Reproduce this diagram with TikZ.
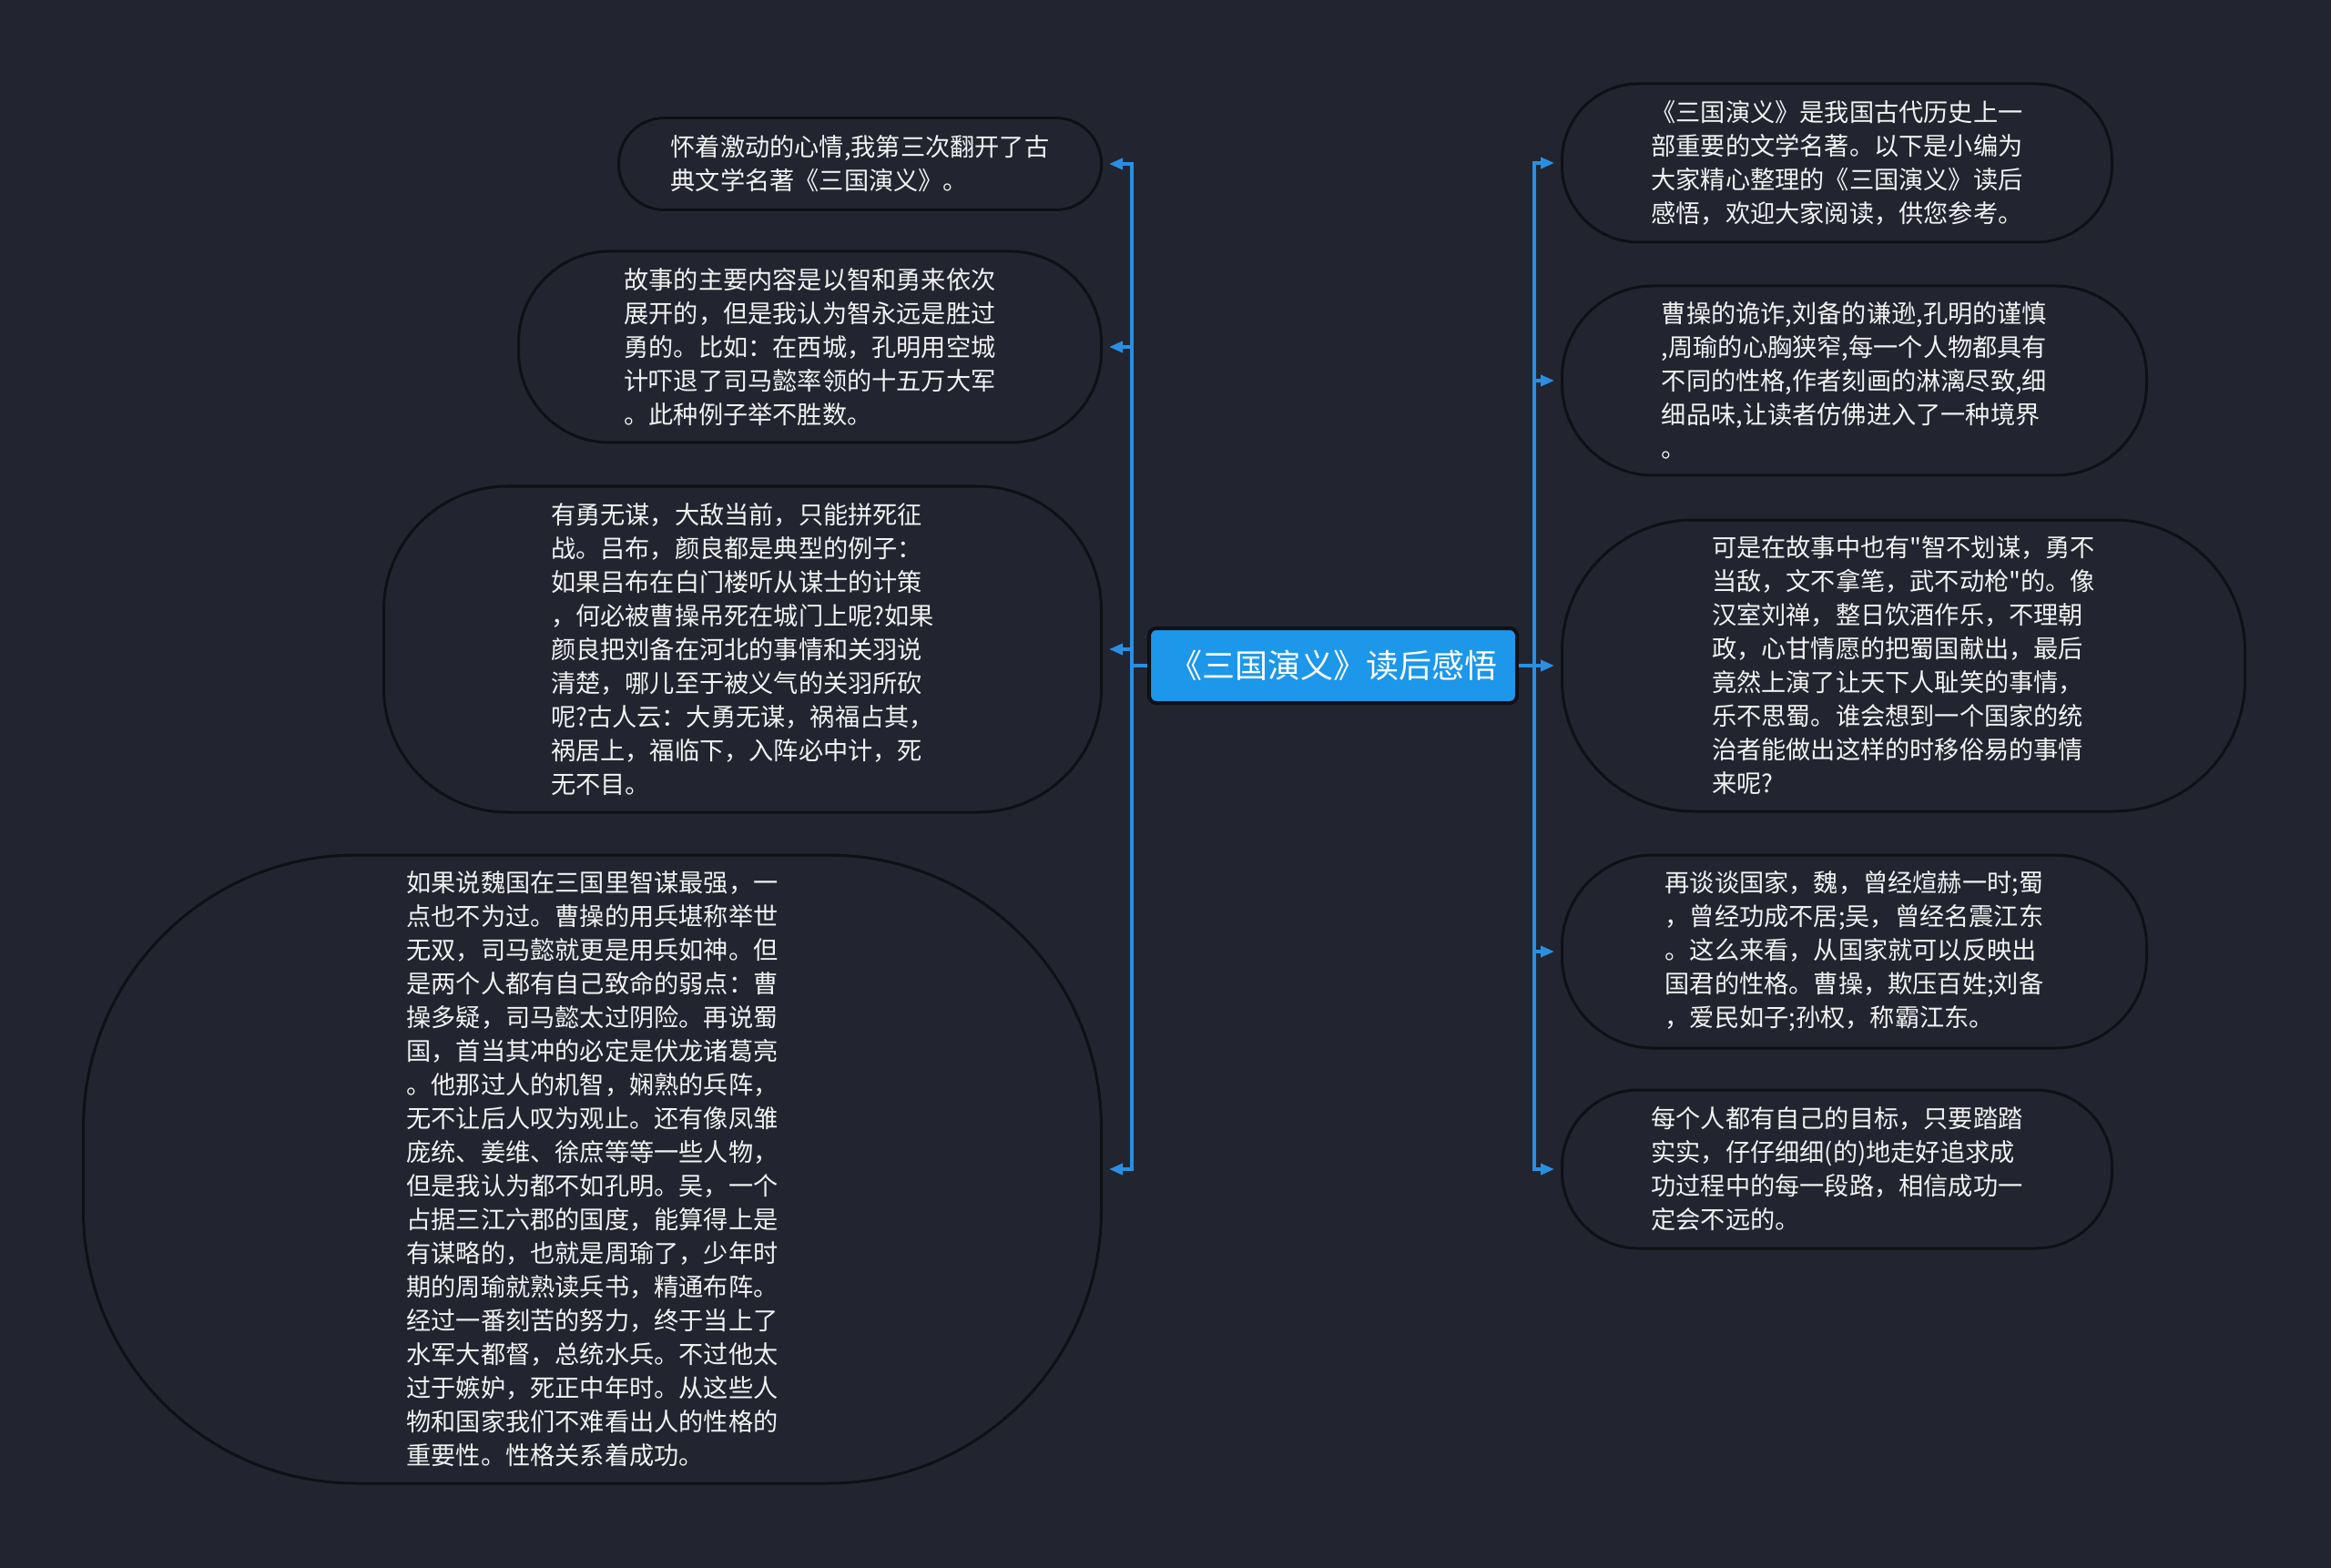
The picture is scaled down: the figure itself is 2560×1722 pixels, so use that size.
\documentclass[tikz,border=0pt]{standalone}
\usepackage{fontspec}
\newfontfamily\cjk{Noto Sans CJK SC}
\usetikzlibrary{arrows.meta}
\definecolor{bgcol}{HTML}{22252F}
\definecolor{rimcol}{HTML}{0F1015}
\definecolor{linkcol}{HTML}{2A8FE2}
\definecolor{rootcol}{HTML}{1C97EA}
\tikzset{
  leaf/.style={draw=rimcol, line width=1.5pt, fill=bgcol, text=white!95!black, align=left, inner sep=0pt,
    font=\cjk\fontsize{13.6pt}{18.5pt}\selectfont},
  link/.style={draw=linkcol, line width=1.8pt},
  tip/.style={-{Triangle[length=7.5pt,width=6pt]}, shorten >=3.5pt}
}

\begin{document}
\begin{tikzpicture}[x=0.5pt,y=-0.5pt]
\fill[bgcol] (0,0) rectangle (2560,1722);
\useasboundingbox (0,0) rectangle (2560,1722);
\node[draw=rimcol, line width=2pt, fill=rootcol, rounded corners=4pt, minimum width=202pt, minimum height=41pt,
  text=white, font=\cjk\fontsize{18pt}{22pt}\selectfont] (root) at (1464,731) {《三国演义》读后感悟};

\node[leaf, anchor=east, minimum width=265pt, minimum height=50.5pt, rounded corners=25pt] (l1) at (1211,180)
  {怀着激动的心情,我第三次翻开了古\\典文学名著《三国演义》。};
\node[leaf, anchor=east, minimum width=320pt, minimum height=105pt, rounded corners=50pt] (l2) at (1211,381)
  {故事的主要内容是以智和勇来依次\\展开的，但是我认为智永远是胜过\\勇的。比如：在西城，孔明用空城\\计吓退了司马懿率领的十五万大军\\。此种例子举不胜数。};
\node[leaf, anchor=east, minimum width=394pt, minimum height=179pt, rounded corners=68pt] (l3) at (1211,713)
  {有勇无谋，大敌当前，只能拼死征\\战。吕布，颜良都是典型的例子：\\如果吕布在白门楼听从谋士的计策\\，何必被曹操吊死在城门上呢?如果\\颜良把刘备在河北的事情和关羽说\\清楚，哪儿至于被义气的关羽所砍\\呢?古人云：大勇无谋，祸福占其，\\祸居上，福临下，入阵必中计，死\\无不目。};
\node[leaf, anchor=east, minimum width=559pt, minimum height=345pt, rounded corners=150pt] (l4) at (1211,1284)
  {如果说魏国在三国里智谋最强，一\\点也不为过。曹操的用兵堪称举世\\无双，司马懿就更是用兵如神。但\\是两个人都有自己致命的弱点：曹\\操多疑，司马懿太过阴险。再说蜀\\国，首当其冲的必定是伏龙诸葛亮\\。他那过人的机智，娴熟的兵阵，\\无不让后人叹为观止。还有像凤雏\\庞统、姜维、徐庶等等一些人物，\\但是我认为都不如孔明。吴，一个\\占据三江六郡的国度，能算得上是\\有谋略的，也就是周瑜了，少年时\\期的周瑜就熟读兵书，精通布阵。\\经过一番刻苦的努力，终于当上了\\水军大都督，总统水兵。不过他太\\过于嫉妒，死正中年时。从这些人\\物和国家我们不难看出人的性格的\\重要性。性格关系着成功。};

\node[leaf, anchor=west, minimum width=302pt, minimum height=87pt, rounded corners=42pt] (r1) at (1714,179)
  {《三国演义》是我国古代历史上一\\部重要的文学名著。以下是小编为\\大家精心整理的《三国演义》读后\\感悟，欢迎大家阅读，供您参考。};
\node[leaf, anchor=west, minimum width=321pt, minimum height=104pt, rounded corners=50pt] (r2) at (1714,418)
  {曹操的诡诈,刘备的谦逊,孔明的谨慎\\,周瑜的心胸狭窄,每一个人物都具有\\不同的性格,作者刻画的淋漓尽致,细\\细品味,让读者仿佛进入了一种境界\\。};
\node[leaf, anchor=west, minimum width=375pt, minimum height=160pt, rounded corners=72pt] (r3) at (1714,731)
  {可是在故事中也有"智不划谋，勇不\\当敌，文不拿笔，武不动枪"的。像\\汉室刘禅，整日饮酒作乐，不理朝\\政，心甘情愿的把蜀国献出，最后\\竟然上演了让天下人耻笑的事情，\\乐不思蜀。谁会想到一个国家的统\\治者能做出这样的时移俗易的事情\\来呢?};
\node[leaf, anchor=west, minimum width=321pt, minimum height=106pt, rounded corners=50pt] (r4) at (1714,1045)
  {再谈谈国家，魏，曾经煊赫一时;蜀\\，曾经功成不居;吴，曾经名震江东\\。这么来看，从国家就可以反映出\\国君的性格。曹操，欺压百姓;刘备\\，爱民如子;孙权，称霸江东。};
\node[leaf, anchor=west, minimum width=302pt, minimum height=87pt, rounded corners=42pt] (r5) at (1714,1284)
  {每个人都有自己的目标，只要踏踏\\实实，仔仔细细(的)地走好追求成\\功过程中的每一段路，相信成功一\\定会不远的。};

\coordinate (lj) at (1243,731);
\coordinate (rj) at (1685,731);
\draw[link] (root.west) -- (lj);
\draw[link] (root.east) -- (rj);
\foreach \n in {l1,l2,l3,l4}
  \draw[link,tip] (lj) |- (\n.east);
\foreach \n in {r1,r2,r3,r4,r5}
  \draw[link,tip] (rj) |- (\n.west);
\end{tikzpicture}
\end{document}
